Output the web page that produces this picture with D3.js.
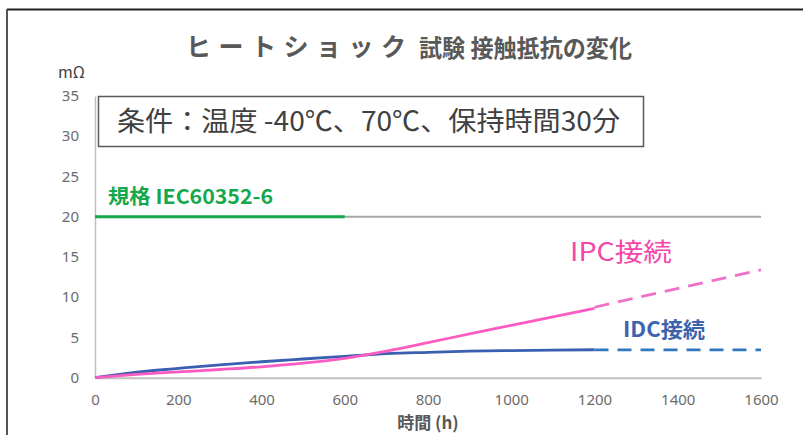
<!DOCTYPE html>
<html>
<head>
<meta charset="utf-8">
<script src="https://cdn.jsdelivr.net/npm/d3@7"></script>
<style>
  html, body { margin: 0; padding: 0; background: #fff; }
  svg { display: block; font-family: "Noto Sans CJK JP", "Noto Sans", sans-serif; }
</style>
</head>
<body>
<svg id="chart" width="803" height="435"></svg>
<script>
// Measured hours and contact resistance (mΩ)
const hours = [0, 100, 200, 300, 400, 500, 600, 700, 800, 900, 1000, 1100, 1200];
const idcValues = [0, 0.68, 1.15, 1.6, 1.98, 2.32, 2.65, 2.98, 3.15, 3.29, 3.37, 3.43, 3.47];
const ipcValues = [0, 0.4, 0.72, 1.02, 1.35, 1.8, 2.4, 3.3, 4.35, 5.45, 6.5, 7.55, 8.6];

// Projected trend beyond the measured range
const extHours = [1200, 1600];
const idcExt = [3.45, 3.45];
const ipcExt = [8.75, 13.4];

// Standard limit (IEC60352-6)
const limitValue = 20;
const limitHours = [0, 1600];
const limitGreenHours = [0, 600];

const xTicks = [0, 200, 400, 600, 800, 1000, 1200, 1400, 1600];
const yTicks = [0, 5, 10, 15, 20, 25, 30, 35];

const svg = d3.select("#chart");

const x = d3.scaleLinear().domain([0, 1600]).range([95, 761]);
const y = d3.scaleLinear().domain([0, 35]).range([377.7, 95.9]);

// outer frame (top and left edges)
svg.append("line").attr("x1", 7).attr("x2", 803).attr("y1", 9.5).attr("y2", 9.5)
  .attr("stroke", "#222").attr("stroke-width", 2);
svg.append("line").attr("x1", 7).attr("x2", 7).attr("y1", 9).attr("y2", 435)
  .attr("stroke", "#555").attr("stroke-width", 2);

// title
svg.append("text").attr("x", 186).attr("y", 56)
  .attr("font-weight", "bold").attr("fill", "#595959")
  .attr("font-size", 25).attr("letter-spacing", 7.5)
  .text("ヒートショック");
svg.append("text").attr("x", 419).attr("y", 57)
  .attr("font-weight", "bold").attr("fill", "#595959")
  .attr("font-size", 24).attr("textLength", 213).attr("lengthAdjust", "spacingAndGlyphs")
  .text("試験 接触抵抗の変化");

// unit label
svg.append("text").attr("x", 58).attr("y", 78).attr("font-size", 16)
  .attr("fill", "#404040").text("mΩ");

// axes
const yAxis = d3.axisLeft(y).tickValues(yTicks).tickSize(0).tickPadding(16)
  .tickFormat(d3.format("d"));
const gy = svg.append("g").attr("transform", `translate(${x(0)},0)`).call(yAxis);
gy.select(".domain").attr("stroke", "#bfbfbf").attr("stroke-width", 1.5);
gy.selectAll("text").attr("font-size", 15).attr("fill", "#6b6b6b")
  .attr("font-family", "'Noto Sans', sans-serif");

const xAxis = d3.axisBottom(x).tickValues(xTicks).tickSize(0).tickPadding(17)
  .tickFormat(d3.format("d"));
const gx = svg.append("g").attr("transform", `translate(0,${y(0)})`).call(xAxis);
gx.select(".domain").attr("stroke", "#bfbfbf").attr("stroke-width", 2);
gx.selectAll("text").attr("font-size", 15).attr("fill", "#6b6b6b")
  .attr("font-family", "'Noto Sans', sans-serif");

// x axis title
svg.append("text").attr("x", 428).attr("y", 429).attr("text-anchor", "middle")
  .attr("font-size", 17).attr("font-weight", "bold").attr("fill", "#595959")
  .text("時間 (h)");

// limit lines
const flat = d3.line().x(d => x(d)).y(() => y(limitValue));
svg.append("path").attr("d", flat(limitHours)).attr("fill", "none")
  .attr("stroke", "#a6a6a6").attr("stroke-width", 2);
svg.append("path").attr("d", flat(limitGreenHours)).attr("fill", "none")
  .attr("stroke", "#14a84c").attr("stroke-width", 3);

svg.append("text").attr("x", 108).attr("y", 204).attr("font-size", 20)
  .attr("font-weight", "bold").attr("fill", "#14a84c")
  .attr("textLength", 165).attr("lengthAdjust", "spacingAndGlyphs")
  .text("規格 IEC60352-6");

// measured curves
const curve = d3.line().x(d => x(d[0])).y(d => y(d[1])).curve(d3.curveMonotoneX);
const idcPts = hours.map((h, i) => [h, idcValues[i]]);
const ipcPts = hours.map((h, i) => [h, ipcValues[i]]);

svg.append("path").attr("d", curve(idcPts)).attr("fill", "none")
  .attr("stroke", "#3a5fb0").attr("stroke-width", 2.8);
svg.append("path").attr("d", curve(ipcPts)).attr("fill", "none")
  .attr("stroke", "#fb5cc2").attr("stroke-width", 2.8);

// projected (dashed) segments
const straight = d3.line().x(d => x(d[0])).y(d => y(d[1]));
svg.append("path").attr("d", straight(extHours.map((h, i) => [h, idcExt[i]])))
  .attr("fill", "none").attr("stroke", "#2e78c0").attr("stroke-width", 2.8)
  .attr("stroke-dasharray", "14,9");
svg.append("path").attr("d", straight(extHours.map((h, i) => [h, ipcExt[i]])))
  .attr("fill", "none").attr("stroke", "#f070c8").attr("stroke-width", 2.8)
  .attr("stroke-dasharray", "15,9");

// series labels
svg.append("text").attr("x", 570).attr("y", 261).attr("font-size", 25)
  .attr("fill", "#f545a8").attr("textLength", 102).attr("lengthAdjust", "spacingAndGlyphs")
  .text("IPC接続");
svg.append("text").attr("x", 623).attr("y", 337).attr("font-size", 21)
  .attr("font-weight", "bold").attr("fill", "#3d63ad")
  .attr("textLength", 82).attr("lengthAdjust", "spacingAndGlyphs")
  .text("IDC接続");

// test condition box
svg.append("rect").attr("x", 98.5).attr("y", 96.5).attr("width", 545).attr("height", 50)
  .attr("fill", "#fff").attr("stroke", "#595959").attr("stroke-width", 1.5);
svg.append("text").attr("x", 117).attr("y", 131).attr("font-size", 27)
  .attr("fill", "#404040").attr("textLength", 503).attr("lengthAdjust", "spacingAndGlyphs")
  .text("条件：温度 -40℃、70℃、保持時間30分");
</script>
</body>
</html>
